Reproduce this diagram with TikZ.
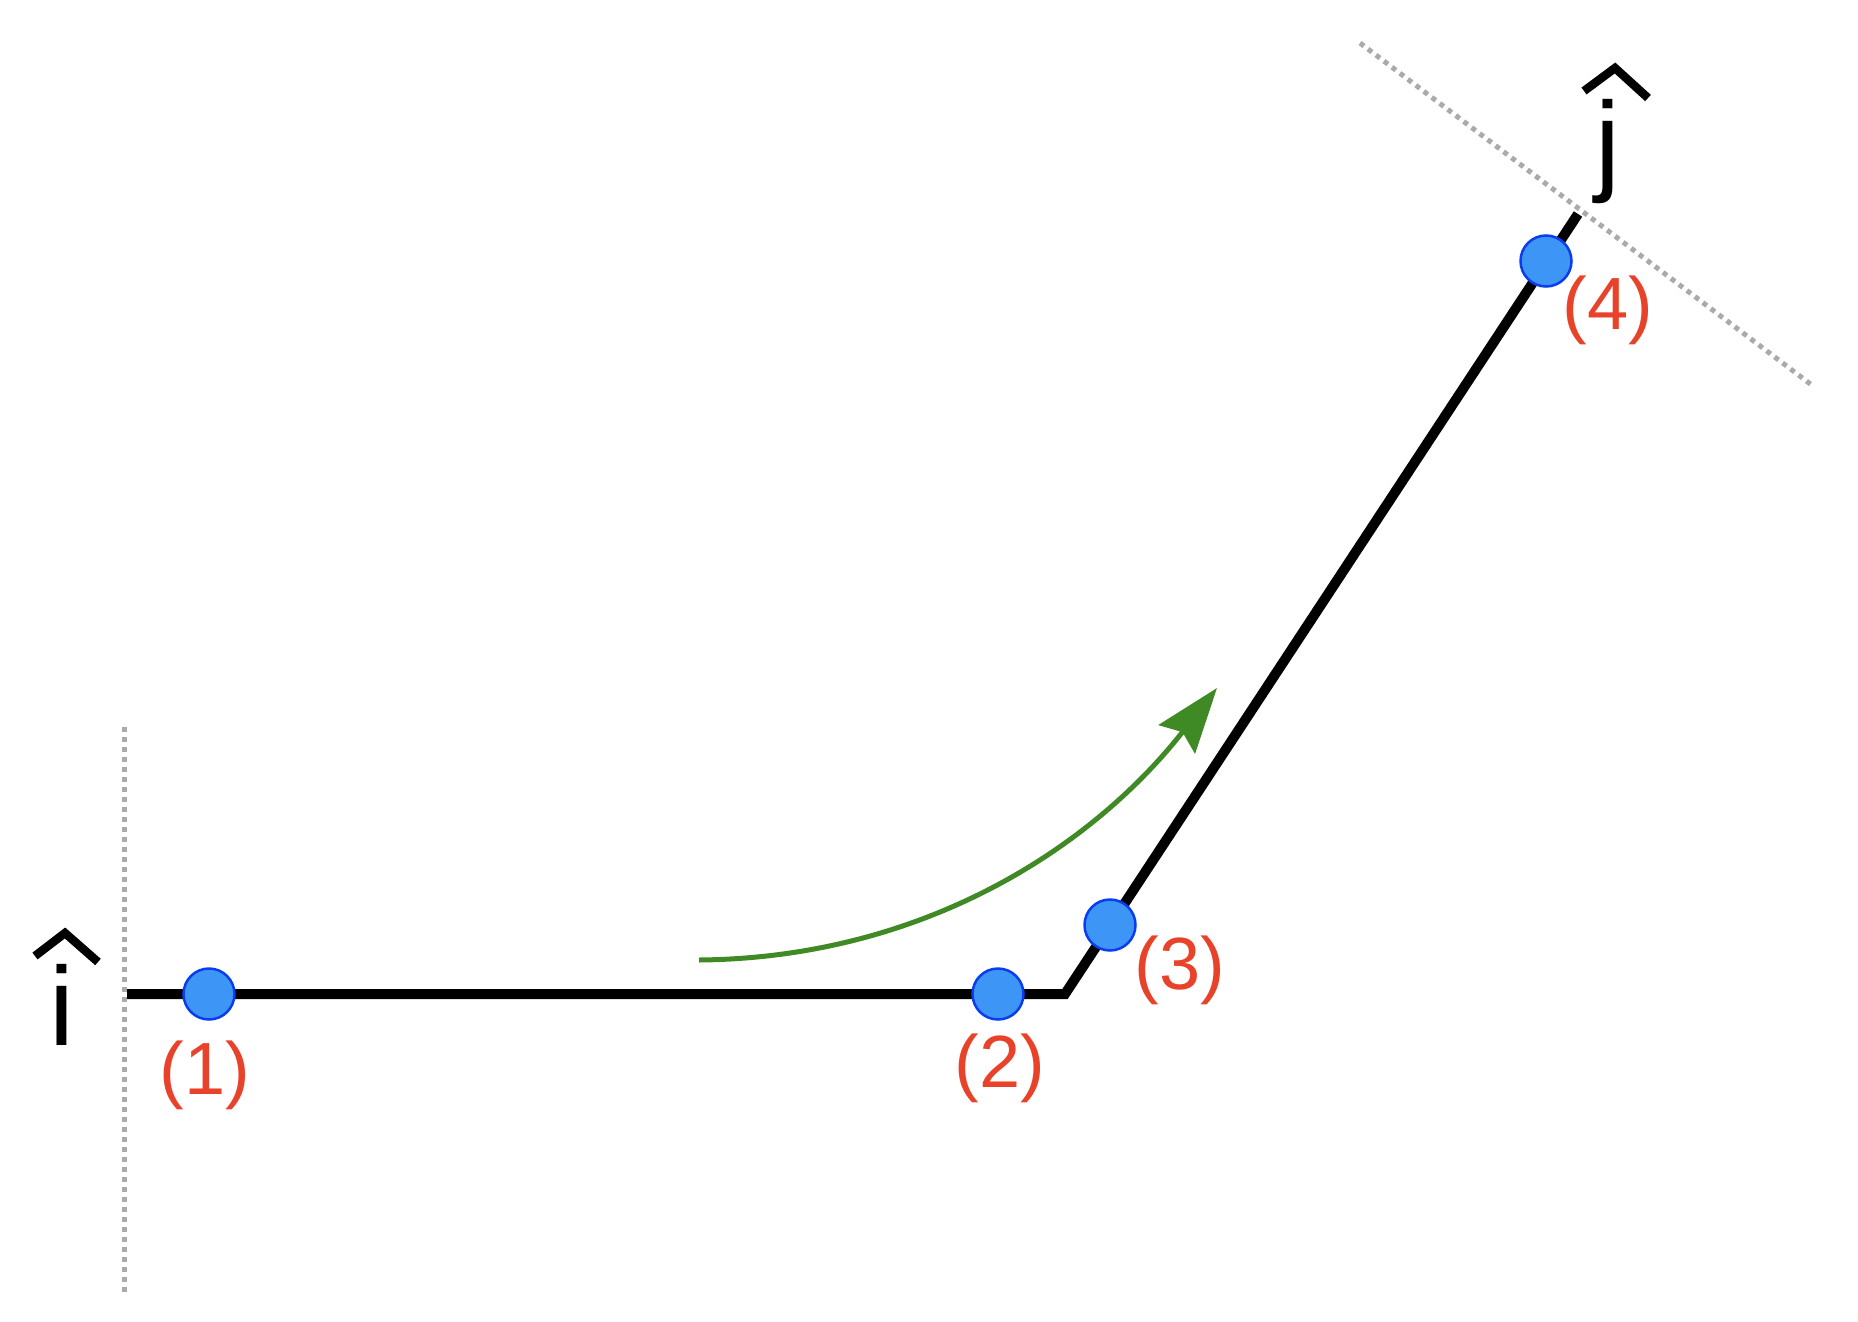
\documentclass[tikz,border=0pt]{standalone}
\usepackage{fontspec}
\setmainfont{Liberation Sans}
\usepackage{xcolor}
\usepackage{tikz}
\usetikzlibrary{arrows.meta, positioning, calc}

\definecolor{dotblue}{RGB}{61,149,245}
\definecolor{dotedge}{RGB}{10,60,240}
\definecolor{labred}{RGB}{232,67,42}
\definecolor{arcgreen}{RGB}{64,138,38}
\definecolor{guidegray}{RGB}{170,170,170}

\tikzset{
	pathline/.style={line width=10pt, miter limit=10, line join=miter},
	guide/.style={guidegray, line width=5pt, dash pattern=on 5pt off 5pt},
	dot/.style={circle, fill=dotblue, draw=dotedge, line width=2.5pt, minimum size=51pt, inner sep=0pt},
	numlabel/.style={text=labred, font=\fontsize{74}{80}\selectfont, inner sep=0pt},
	axislabel/.style={font=\fontsize{112}{120}\selectfont, inner sep=0pt, anchor=base},
	hatline/.style={line width=8.5pt, line join=miter, line cap=butt},
	turnarrow/.style={arcgreen, line width=5pt, -{Stealth[length=65pt, width=46pt, inset=9pt]}}
}

\begin{document}
\begin{tikzpicture}[x=1pt, y=-1pt]
	\useasboundingbox (0,0) rectangle (1858,1322);
	
	% guides
	\draw[guide] (124,727) -- (124,1295);
	\draw[guide] (1360,43) -- (1813,386);
	
	% path
	\coordinate (start) at (127,994);
	\coordinate (corner) at (1065,994);
	\coordinate (stop) at (1578,214);
	\draw[pathline] (start) -- (corner) -- (stop);
	
	% turning arrow
	\coordinate (arcstart) at (699,960);
	\coordinate (arcend) at (1217,688);
	\draw[turnarrow] (arcstart) .. controls (920,958) and (1090,850) .. (arcend);
	
	% points and their numbers
	\foreach \n/\px/\py/\lx/\ly in {1/209/994/205/1075, 2/998/994/1000/1068, 3/1110/925/1180/970, 4/1546/261/1608/310}
	{
		\node[dot] (p\n) at (\px,\py) {};
		\node[numlabel] (l\n) at (\lx,\ly) {(\n)};
	}
	
	% unit vectors
	\node[axislabel] (ihat) at (62,1045) {i};
	\draw[hatline] (35,956) -- (65,933) -- (98,962);
	\node[axislabel] (jhat) at (1608,180) {j};
	\draw[hatline] (1584,91) -- (1615,68) -- (1648,98);
\end{tikzpicture}
\end{document}
